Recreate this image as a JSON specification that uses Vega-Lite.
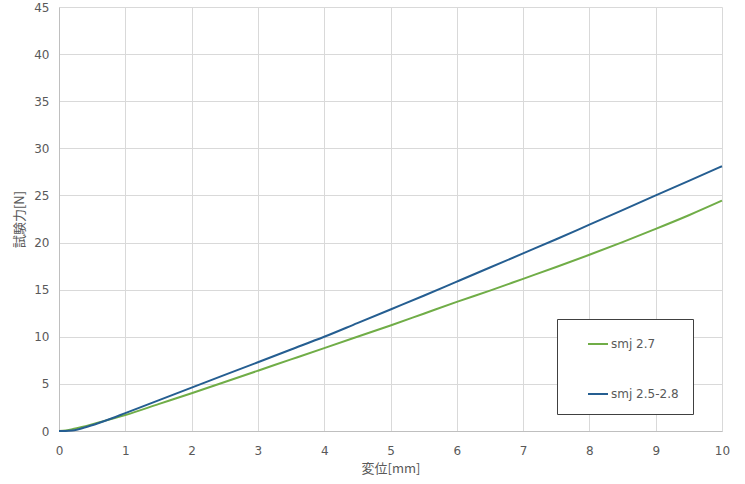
{
  "$schema": "https://vega.github.io/schema/vega-lite/v6.json",
  "width": 663,
  "height": 424,
  "autosize": {"type": "none"},
  "padding": {"left": 59, "top": 7, "right": 23, "bottom": 53},
  "background": "white",
  "config": {
    "view": {"stroke": null},
    "font": "DejaVu Sans"
  },
  "data": {
    "values": [
      {"s": "smj 2.7", "x": 0, "y": 0},
      {"s": "smj 2.7", "x": 0.1, "y": 0.05},
      {"s": "smj 2.7", "x": 0.2, "y": 0.2},
      {"s": "smj 2.7", "x": 0.4, "y": 0.5},
      {"s": "smj 2.7", "x": 0.6, "y": 0.9},
      {"s": "smj 2.7", "x": 0.8, "y": 1.3},
      {"s": "smj 2.7", "x": 1, "y": 1.7},
      {"s": "smj 2.7", "x": 1.5, "y": 2.85},
      {"s": "smj 2.7", "x": 2, "y": 4.0},
      {"s": "smj 2.7", "x": 2.5, "y": 5.2},
      {"s": "smj 2.7", "x": 3, "y": 6.4},
      {"s": "smj 2.7", "x": 3.5, "y": 7.6},
      {"s": "smj 2.7", "x": 4, "y": 8.8},
      {"s": "smj 2.7", "x": 4.5, "y": 10.0},
      {"s": "smj 2.7", "x": 5, "y": 11.2},
      {"s": "smj 2.7", "x": 5.5, "y": 12.45},
      {"s": "smj 2.7", "x": 6, "y": 13.7},
      {"s": "smj 2.7", "x": 6.5, "y": 14.9},
      {"s": "smj 2.7", "x": 7, "y": 16.15},
      {"s": "smj 2.7", "x": 7.5, "y": 17.4},
      {"s": "smj 2.7", "x": 8, "y": 18.7},
      {"s": "smj 2.7", "x": 8.5, "y": 20.05},
      {"s": "smj 2.7", "x": 9, "y": 21.45},
      {"s": "smj 2.7", "x": 9.5, "y": 22.9},
      {"s": "smj 2.7", "x": 10, "y": 24.45},
      {"s": "smj 2.5-2.8", "x": 0, "y": 0},
      {"s": "smj 2.5-2.8", "x": 0.1, "y": 0},
      {"s": "smj 2.5-2.8", "x": 0.2, "y": 0.05},
      {"s": "smj 2.5-2.8", "x": 0.4, "y": 0.4},
      {"s": "smj 2.5-2.8", "x": 0.6, "y": 0.85},
      {"s": "smj 2.5-2.8", "x": 0.8, "y": 1.35},
      {"s": "smj 2.5-2.8", "x": 1, "y": 1.9},
      {"s": "smj 2.5-2.8", "x": 1.5, "y": 3.25},
      {"s": "smj 2.5-2.8", "x": 2, "y": 4.6},
      {"s": "smj 2.5-2.8", "x": 2.5, "y": 5.95},
      {"s": "smj 2.5-2.8", "x": 3, "y": 7.3},
      {"s": "smj 2.5-2.8", "x": 3.5, "y": 8.65},
      {"s": "smj 2.5-2.8", "x": 4, "y": 10.0},
      {"s": "smj 2.5-2.8", "x": 4.5, "y": 11.45},
      {"s": "smj 2.5-2.8", "x": 5, "y": 12.9},
      {"s": "smj 2.5-2.8", "x": 5.5, "y": 14.35},
      {"s": "smj 2.5-2.8", "x": 6, "y": 15.85},
      {"s": "smj 2.5-2.8", "x": 6.5, "y": 17.35},
      {"s": "smj 2.5-2.8", "x": 7, "y": 18.85},
      {"s": "smj 2.5-2.8", "x": 7.5, "y": 20.35},
      {"s": "smj 2.5-2.8", "x": 8, "y": 21.9},
      {"s": "smj 2.5-2.8", "x": 8.5, "y": 23.45},
      {"s": "smj 2.5-2.8", "x": 9, "y": 25.0},
      {"s": "smj 2.5-2.8", "x": 9.5, "y": 26.55},
      {"s": "smj 2.5-2.8", "x": 10, "y": 28.1}
    ]
  },
  "mark": {"type": "line", "strokeWidth": 2, "interpolate": "monotone"},
  "encoding": {
    "x": {
      "field": "x", "type": "quantitative",
      "scale": {"domain": [0, 10], "nice": false},
      "axis": {
        "title": "変位[mm]",
        "titleFont": "Noto Sans CJK JP", "titleFontSize": 13, "titleFontWeight": "normal", "titleColor": "#595959",
        "titlePadding": 6,
        "values": [0, 1, 2, 3, 4, 5, 6, 7, 8, 9, 10],
        "labelFontSize": 12, "labelColor": "#595959", "labelPadding": 14,
        "ticks": false, "domainColor": "#bfbfbf",
        "gridColor": "#d9d9d9", "labelFlush": false
      }
    },
    "y": {
      "field": "y", "type": "quantitative",
      "scale": {"domain": [0, 45], "nice": false},
      "axis": {
        "title": "試験力[N]",
        "titleFont": "Noto Sans CJK JP", "titleFontSize": 13, "titleFontWeight": "normal", "titleColor": "#595959",
        "titlePadding": 7,
        "values": [0, 5, 10, 15, 20, 25, 30, 35, 40, 45],
        "labelFontSize": 12, "labelColor": "#595959", "labelPadding": 10,
        "ticks": false, "domainColor": "#bfbfbf",
        "gridColor": "#d9d9d9", "labelFlush": false
      }
    },
    "color": {
      "field": "s", "type": "nominal",
      "scale": {"domain": ["smj 2.7", "smj 2.5-2.8"], "range": ["#70ad47", "#255e91"]},
      "legend": {
        "title": null,
        "orient": "none",
        "legendX": 498,
        "legendY": 312,
        "direction": "vertical",
        "strokeColor": "#404040",
        "fillColor": "white",
        "padding": 14,
        "symbolOffset": 16,
        "symbolType": "stroke",
        "symbolSize": 400,
        "symbolStrokeWidth": 2,
        "labelOffset": 2,
        "labelFontSize": 12,
        "labelColor": "#595959",
        "rowPadding": 33
      }
    }
  }
}
